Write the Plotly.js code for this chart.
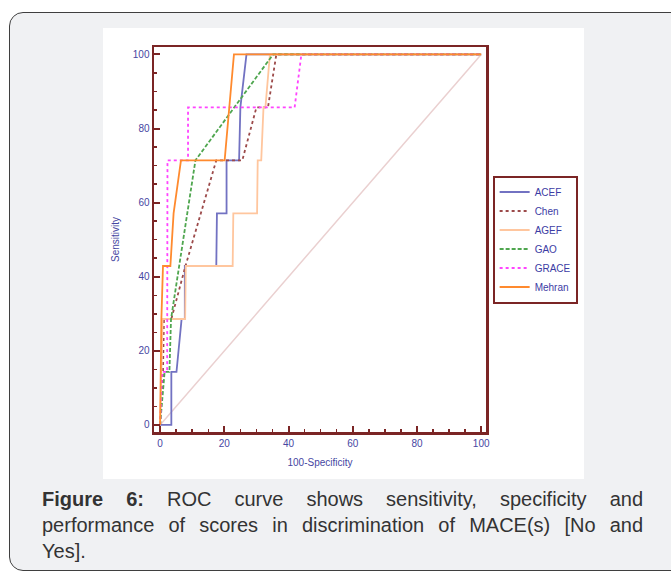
<!DOCTYPE html>
<html>
<head>
<meta charset="utf-8">
<script src="https://cdn.plot.ly/plotly-3.0.1.min.js"></script>
<style>
  html, body { margin:0; padding:0; background:#ffffff; width:671px; height:572px; overflow:hidden; }
  #card { position:absolute; left:9px; top:12px; width:700px; height:557px; border:1.5px solid #3f3f3f; border-radius:14px; background:#f0f1f3; }
  #chart { position:absolute; left:103px; top:28px; width:481px; height:451px; }
  #caption { position:absolute; left:42px; top:486px; width:601px; font-family:"Liberation Sans", Arial, sans-serif; font-size:20px; line-height:26px; color:#333333; }
  #caption .ln { text-align:justify; text-align-last:justify; white-space:nowrap; }
  #caption .last { text-align:left; text-align-last:left; }
</style>
</head>
<body>
<div id="card"></div>
<div id="chart"></div>
<div id="caption">
  <div class="ln"><b>Figure 6:</b> ROC curve shows sensitivity, specificity and</div>
  <div class="ln">performance of scores in discrimination of MACE(s) [No and</div>
  <div class="ln last">Yes].</div>
</div>
<script>
// ROC curves: x = 100-Specificity, y = Sensitivity
const acefX   = [0, 3.5, 3.5, 5.1, 6.7, 7.7, 7.7, 17.5, 17.7, 20.7, 20.7, 24.6, 25.0, 26.9, 100];
const acefY   = [0, 0, 14.3, 14.3, 28.6, 28.6, 42.9, 42.9, 57.1, 57.1, 71.4, 71.4, 85.7, 100, 100];
const chenX   = [0, 0.9, 1.2, 3.5, 7.9, 17.5, 25.6, 30.0, 33.6, 36.2, 100];
const chenY   = [0, 14.3, 28.6, 28.6, 42.9, 71.4, 71.4, 85.7, 85.7, 100, 100];
const agefX   = [0, 0.8, 7.8, 8.0, 22.6, 22.8, 30.2, 30.4, 31.5, 32.2, 32.8, 34.2, 100];
const agefY   = [0, 28.6, 28.6, 42.9, 42.9, 57.1, 57.1, 71.4, 71.4, 85.7, 85.7, 100, 100];
const gaoX    = [0, 1.4, 2.9, 3.4, 11.0, 35.2, 100];
const gaoY    = [0, 14.3, 14.3, 28.6, 71.4, 100, 100];
const graceX  = [0, 0.6, 2.2, 2.3, 8.7, 8.7, 41.9, 44.0, 100];
const graceY  = [0, 14.3, 14.3, 71.4, 71.4, 85.7, 85.7, 100, 100];
const mehranX = [0, 0.2, 0.4, 0.9, 3.2, 4.2, 6.5, 20.1, 23.0, 100];
const mehranY = [0, 14.3, 28.6, 42.9, 42.9, 57.1, 71.4, 71.4, 100, 100];
const refX    = [0, 100];
const refY    = [0, 100];

const seriesNames = ["ACEF", "Chen", "AGEF", "GAO", "GRACE", "Mehran"];
const xTickVals = [0, 20, 40, 60, 80, 100];
const yTickVals = [0, 20, 40, 60, 80, 100];

const axisColor = "#7b2525";
const labelColor = "#4646a2";

const styles = [
  {color:"#7272c2", dash:"solid",   width:1.8},
  {color:"#9c4a4a", dash:"dot",     width:1.8},
  {color:"#ffc69e", dash:"solid",   width:1.8},
  {color:"#4fa64f", dash:"4px,2px", width:1.8},
  {color:"#ff44ff", dash:"dot",     width:1.8},
  {color:"#ff8a2e", dash:"solid",   width:1.8}
];
const xs = [acefX, chenX, agefX, gaoX, graceX, mehranX];
const ys = [acefY, chenY, agefY, gaoY, graceY, mehranY];

const traces = [{
  x: refX, y: refY, mode:"lines", showlegend:false, hoverinfo:"skip",
  line:{color:"#ead0d0", width:1.5}
}];
seriesNames.forEach((n, i) => {
  traces.push({x: xs[i], y: ys[i], name: n, mode:"lines", line: styles[i]});
});

const axisCommon = {
  showgrid:false, zeroline:false,
  showline:true, linecolor:axisColor, linewidth:2.5, mirror:true,
  ticks:"inside", ticklen:6, tickwidth:2, tickcolor:axisColor,
  tickfont:{family:"Liberation Sans, Arial, sans-serif", size:10, color:labelColor},
  minor:{dtick:5, ticks:"inside", ticklen:3, tickwidth:1.5, tickcolor:axisColor}
};

const layout = {
  width:481, height:451,
  margin:{l:51.2, r:97.7, t:18.7, b:47, autoexpand:false},
  paper_bgcolor:"#ffffff", plot_bgcolor:"#ffffff",
  xaxis: Object.assign({}, axisCommon, {
    range:[-1.9, 101.5], tickvals:xTickVals,
    title:{text:"100-Specificity", font:{family:"Liberation Sans, Arial, sans-serif", size:10, color:labelColor}, standoff:12}
  }),
  yaxis: Object.assign({}, axisCommon, {
    range:[-1.9, 102], tickvals:yTickVals,
    title:{text:"Sensitivity", font:{family:"Liberation Sans, Arial, sans-serif", size:10, color:labelColor}, standoff:12}
  }),
  legend:{
    x:1.02, xanchor:"left", y:0.5, yanchor:"middle",
    bgcolor:"#ffffff", bordercolor:axisColor, borderwidth:2,
    font:{family:"Liberation Sans, Arial, sans-serif", size:10, color:"#3c3ca4"},
    tracegroupgap:0
  },
  showlegend:true
};

Plotly.newPlot("chart", traces, layout, {displayModeBar:false, staticPlot:true});
</script>
</body>
</html>
